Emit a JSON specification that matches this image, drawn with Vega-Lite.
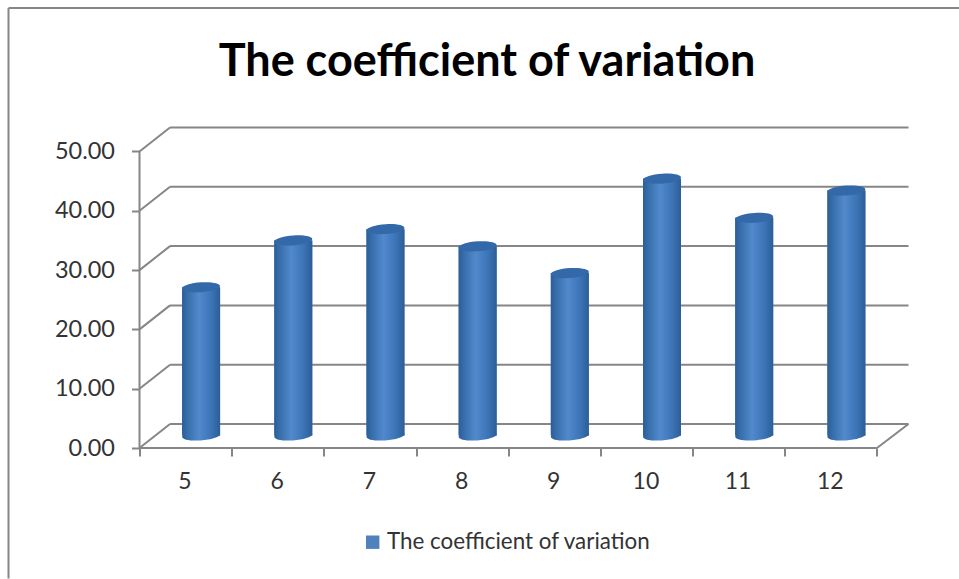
{
"$schema":"https://vega.github.io/schema/vega-lite/v6.json",
"autosize":"none",
"padding":{"left":139.5,"top":126,"right":50.5,"bottom":131},
"width":769,"height":322,
"background":"white",
"view":{"stroke":null},
"title":{"text":"The coefficient of variation","font":"Lato","fontWeight":"bold","fontSize":45,"color":"#000000","anchor":"middle","frame":"group","dx":-37,"offset":-78},
"config":{"font":"Lato"},
"datasets":{
 "bars":[
  {"month":5,"cv":25.0,"series":"The coefficient of variation"},
  {"month":6,"cv":32.9,"series":"The coefficient of variation"},
  {"month":7,"cv":34.8,"series":"The coefficient of variation"},
  {"month":8,"cv":31.9,"series":"The coefficient of variation"},
  {"month":9,"cv":27.4,"series":"The coefficient of variation"},
  {"month":10,"cv":43.3,"series":"The coefficient of variation"},
  {"month":11,"cv":36.7,"series":"The coefficient of variation"},
  {"month":12,"cv":41.3,"series":"The coefficient of variation"}
 ],
 "grid":[{"v":0},{"v":10},{"v":20},{"v":30},{"v":40},{"v":50}],
 "one":[{"n":1}]
},
"layer":[
 {"data":{"name":"one"},"mark":{"type":"rule","color":"#868686","strokeWidth":2},"encoding":{"x":{"datum":3.079,"type":"quantitative","scale":{"domain":[4.5,12.842],"nice":false,"zero":false,"padding":0},"axis":{"values":[4.5,5.5,6.5,7.5,8.5,9.5,10.5,11.5,12.5],"title":null,"grid":false,"domain":false,"tickColor":"#868686","tickWidth":2,"tickSize":8,"labelExpr":"datum.value<12?''+(datum.value+0.5):''","labelOffset":45,"labelFontSize":23,"labelColor":"#333333","labelPadding":14,"labelFont":"Lato","labelBound":false,"labelFlush":false,"labelOverlap":false}},"x2":{"datum":13.39},"y":{"datum":74.2,"type":"quantitative","scale":{"domain":[0,54.3],"nice":false,"zero":false},"axis":{"values":[0,10,20,30,40,50],"format":".2f","title":null,"grid":false,"domain":false,"tickColor":"#868686","tickWidth":2,"tickSize":8,"labelFontSize":23.5,"labelColor":"#333333","labelPadding":17,"labelFont":"Lato","labelBound":false,"labelFlush":false,"labelOverlap":false}}}},
 {"data":{"name":"one"},"mark":{"type":"rule","color":"#868686","strokeWidth":2},"encoding":{"x":{"datum":3.079},"y":{"datum":74.2},"y2":{"datum":-22}}},
 {"data":{"name":"grid"},"mark":{"type":"rule","color":"#868686","strokeWidth":2,"yOffset":-24},"encoding":{"x":{"datum":4.831},"x2":{"datum":12.842},"y":{"field":"v","type":"quantitative"}}},
 {"data":{"name":"grid"},"mark":{"type":"rule","color":"#868686","strokeWidth":2,"y2Offset":-24},"encoding":{"x":{"datum":4.5},"x2":{"datum":4.831},"y":{"field":"v","type":"quantitative"},"y2":{"field":"v"}}},
 {"data":{"name":"one"},"mark":{"type":"rule","color":"#868686","strokeWidth":2,"y2Offset":-24},"encoding":{"x":{"datum":12.5},"x2":{"datum":12.842},"y":{"datum":0},"y2":{"datum":0}}},
 {"data":{"name":"one"},"mark":{"type":"rule","color":"#868686","strokeWidth":2},"encoding":{"x":{"datum":4.5},"y":{"datum":0},"y2":{"datum":50}}},
 {"data":{"name":"one"},"mark":{"type":"rule","color":"#868686","strokeWidth":2},"encoding":{"x":{"datum":4.5},"x2":{"datum":12.5},"y":{"datum":0}}},
 {"data":{"name":"bars"},"mark":{"type":"bar","size":38,"xOffset":15.5,"yOffset":-12.5,"y2Offset":-12.5},"encoding":{"x":{"field":"month","type":"quantitative"},"y":{"field":"cv","type":"quantitative"},"y2":{"datum":0},"color":{"field":"series","type":"nominal","scale":{"range":["#4f81bd"]},"legend":{"title":null,"orient":"none","legendX":222,"legendY":405,"symbolType":"square","symbolSize":180,"symbolStrokeWidth":0,"labelFontSize":22.4,"labelColor":"#333333","labelFont":"Lato","labelLimit":400,"labelOffset":3}}}},
 {"data":{"name":"bars"},"mark":{"type":"point","filled":true,"opacity":1,"size":1444,"xOffset":15.5,"yOffset":-12.5,"shape":"M-1,0.06 A1,0.26 -4 1 0 1,-0.06 A1,0.26 -4 1 0 -1,0.06 Z","fill":{"x1":0,"y1":0,"x2":1,"y2":0,"gradient":"linear","stops":[{"offset":0,"color":"#2c5e98"},{"offset":0.18,"color":"#3a72b0"},{"offset":0.45,"color":"#5189cc"},{"offset":0.75,"color":"#3d76b8"},{"offset":1,"color":"#2c5e98"}]}},"encoding":{"x":{"field":"month","type":"quantitative"},"y":{"datum":0}}},
 {"data":{"name":"bars"},"mark":{"type":"bar","size":38,"xOffset":15.5,"yOffset":-12.5,"y2Offset":-12.5,"fill":{"x1":0,"y1":0,"x2":1,"y2":0,"gradient":"linear","stops":[{"offset":0,"color":"#2c5e98"},{"offset":0.18,"color":"#3a72b0"},{"offset":0.45,"color":"#5189cc"},{"offset":0.75,"color":"#3d76b8"},{"offset":1,"color":"#2c5e98"}]}},"encoding":{"x":{"field":"month","type":"quantitative"},"y":{"field":"cv","type":"quantitative"},"y2":{"datum":0}}},
 {"data":{"name":"bars"},"mark":{"type":"point","filled":true,"opacity":1,"size":1444,"xOffset":15.5,"yOffset":-12.5,"color":"#3369a8","shape":"M-1,0.06 A1,0.26 -4 1 0 1,-0.06 A1,0.26 -4 1 0 -1,0.06 Z"},"encoding":{"x":{"field":"month","type":"quantitative"},"y":{"field":"cv","type":"quantitative"}}}
]
}
